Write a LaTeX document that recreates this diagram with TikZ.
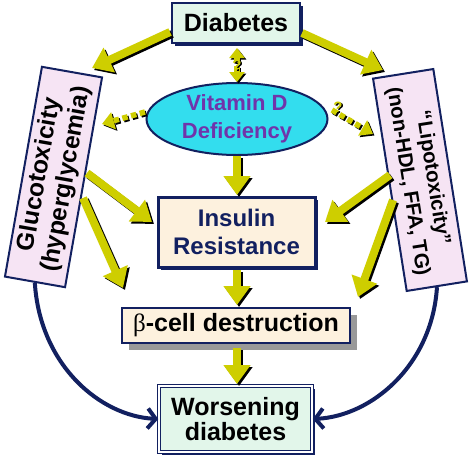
\documentclass[tikz,border=0pt]{standalone}
\usepackage{fontspec}
\setmainfont{Liberation Sans}
\newfontfamily\serifb{Liberation Serif}
\usetikzlibrary{arrows.meta,shapes.geometric,shadows}
\definecolor{ylw}{RGB}{206,206,0}
\definecolor{navy}{RGB}{18,32,96}
\definecolor{mint}{RGB}{226,246,234}
\definecolor{peach}{RGB}{253,241,222}
\definecolor{lav}{RGB}{246,228,244}
\definecolor{cyanf}{RGB}{51,221,238}
\definecolor{purp}{RGB}{112,52,170}
\newcommand\fatarrow[2]{\draw[fatsh] (#1) -- (#2); \draw[fat] (#1) -- (#2);}
\begin{document}
\begin{tikzpicture}[x=1pt,y=-1pt,
  box/.style={draw=navy, line width=2pt, inner sep=0pt, align=center},
  fat/.style={line width=8pt, draw=ylw, -{Triangle[length=19pt,width=26pt]}},
  fatsh/.style={fat, draw=black, transform canvas={shift={(2pt,-2pt)}}},
  dotl/.style={line width=5.5pt, draw=ylw, dash pattern=on 5.5pt off 3.5pt},
  dotsh/.style={dotl, draw=black, transform canvas={shift={(1.5pt,-1.5pt)}}},
  qm/.style={font=\fontsize{15}{15}\selectfont\bfseries, text=ylw, inner sep=0pt},
  qmsh/.style={qm, text=black},
  curvea/.style={draw=navy, line width=4pt, -{Straight Barb[length=8pt,width=20pt]}}
]
\useasboundingbox (0,0) rectangle (474,458);
\fill[white] (0,0) rectangle (474,458);

% nodes
\node[box, fill=mint, minimum width=128pt, minimum height=40pt,
  drop shadow={shadow xshift=3pt, shadow yshift=-3pt, fill=navy, opacity=1},
  font=\fontsize{25}{26}\selectfont\bfseries] (diab) at (236,23) {Diabetes};

\node[ellipse, draw=navy, line width=2pt, fill=cyanf, minimum width=181pt, minimum height=72pt,
  inner sep=0pt, align=center, text=purp, font=\fontsize{22}{28}\selectfont\bfseries] (vit) at (237,119) {Vitamin D\\Deficiency};

\node[box, fill=peach, minimum width=157pt, minimum height=70pt, line width=3pt, text=navy,
  drop shadow={shadow xshift=2.5pt, shadow yshift=-2.5pt, fill=navy, opacity=1},
  font=\fontsize{24}{28}\selectfont\bfseries] (ir) at (236.5,232) {Insulin\\Resistance};

\node[box, fill=peach, minimum width=228pt, minimum height=35pt,
  drop shadow={shadow xshift=7pt, shadow yshift=-7pt, fill=black!40, opacity=1},
  font=\fontsize{25}{26}\selectfont\bfseries] (beta) at (236,325.5) {{\serifb\mdseries β}-cell destruction};

\node[box, fill=mint, minimum width=153pt, minimum height=66pt, line width=1.5pt,
  double=white, double distance=1.5pt,
  drop shadow={shadow xshift=2.5pt, shadow yshift=-2.5pt, fill=navy, opacity=1},
  font=\fontsize{25}{25}\selectfont\bfseries] (wors) at (235.5,419) {Worsening\\diabetes};

\node[box, fill=lav, minimum width=213pt, minimum height=61pt, rotate=80,
  font=\fontsize{24.5}{27}\selectfont\bfseries] (gluco) at (53.5,177) {Glucotoxicity\\(hyperglycemia)};

\node[box, fill=lav, minimum width=215pt, minimum height=61pt, rotate=-81,
  font=\fontsize{20.5}{25}\selectfont\bfseries] (lipo) at (420,180) {“Lipotoxicity”\\(non-HDL, FFA, TG)};

% coordinates for arrow ends
\coordinate (dg0) at (170,32); \coordinate (dg1) at (92,68);
\coordinate (dl0) at (302,33); \coordinate (dl1) at (383,70);
\coordinate (vi0) at (237,156); \coordinate (vi1) at (237,195);
\coordinate (gi0) at (87,173); \coordinate (gi1) at (152,222);
\coordinate (gb0) at (83,198); \coordinate (gb1) at (123,288);
\coordinate (li0) at (390,175); \coordinate (li1) at (325,222);
\coordinate (lb0) at (393,200); \coordinate (lb1) at (358,297);
\coordinate (ib0) at (237,270); \coordinate (ib1) at (237,305);
\coordinate (bw0) at (237,348); \coordinate (bw1) at (237,384);

\fatarrow{dg0}{dg1}
\fatarrow{dl0}{dl1}
\fatarrow{vi0}{vi1}
\fatarrow{gi0}{gi1}
\fatarrow{gb0}{gb1}
\fatarrow{li0}{li1}
\fatarrow{lb0}{lb1}
\fatarrow{ib0}{ib1}
\fatarrow{bw0}{bw1}

% dotted uncertain arrows
\coordinate (dv0) at (237,48); \coordinate (dv1) at (237,82);
\coordinate (vg0) at (145,112); \coordinate (vg1) at (102,124);
\coordinate (vl0) at (332,110); \coordinate (vl1) at (373,134);
\draw[dotsh, {Triangle[length=10pt,width=15pt]}-{Triangle[length=10pt,width=15pt]}] (dv0) -- (dv1);
\draw[dotl, {Triangle[length=10pt,width=15pt]}-{Triangle[length=10pt,width=15pt]}] (dv0) -- (dv1);
\draw[dotsh, -{Triangle[length=12pt,width=17pt]}] (vg0) -- (vg1);
\draw[dotl, -{Triangle[length=12pt,width=17pt]}] (vg0) -- (vg1);
\draw[dotsh, -{Triangle[length=12pt,width=17pt]}] (vl0) -- (vl1);
\draw[dotl, -{Triangle[length=12pt,width=17pt]}] (vl0) -- (vl1);
\node[qmsh] (q1s) at (238.5,66.5) {?};
\node[qm] (q1) at (237,65) {?};
\node[qmsh] (q2s) at (339.5,108.5) {?};
\node[qm] (q2) at (338,107) {?};

% navy curved arrows
\draw[curvea] (gluco.west) .. controls (40,365) and (100,416) .. (wors.west);
\draw[curvea] (lipo.east) .. controls (432,365) and (372,416) .. (wors.east);
\end{tikzpicture}
\end{document}
